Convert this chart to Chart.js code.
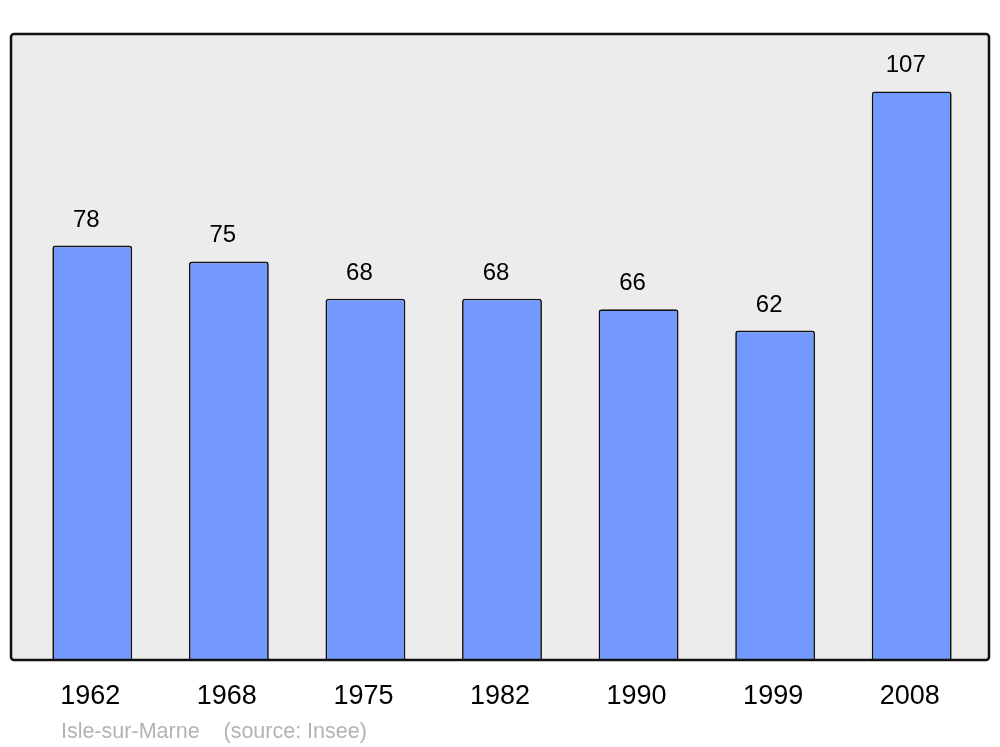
<html>
<head>
    <script type="text/javascript" src="https://cdn.jsdelivr.net/npm/chart.js@4/dist/chart.umd.min.js"></script>
    <style>
        body { margin: 0; background: #fff; }
        #wrap { width: 1000px; height: 747px; }
    </style>
</head>
<body>
    <div id="wrap"><canvas id="pop"></canvas></div>
    <script type="text/javascript">
        var years = ["1962", "1968", "1975", "1982", "1990", "1999", "2008"];
        var population = [78, 75, 68, 68, 66, 62, 107];
        var footer = "Isle-sur-Marne    (source: Insee)";

        var fontFamily = "'Liberation Sans', Arial, sans-serif";

        // grey box behind the bars, a bit wider than the category band
        var boxPlugin = {
            id: 'box',
            beforeDatasetsDraw: function(chart) {
                var a = chart.chartArea, ctx = chart.ctx;
                ctx.save();
                ctx.beginPath();
                ctx.roundRect(a.left - 13, a.top, (a.right + 9) - (a.left - 13), a.bottom - a.top, 3);
                ctx.fillStyle = '#ececec';
                ctx.fill();
                ctx.restore();
            },
            afterDatasetsDraw: function(chart) {
                var a = chart.chartArea, ctx = chart.ctx;
                ctx.save();
                ctx.beginPath();
                ctx.roundRect(a.left - 13, a.top, (a.right + 9) - (a.left - 13), a.bottom - a.top, 3);
                ctx.lineWidth = 2.5;
                ctx.strokeStyle = '#111';
                ctx.stroke();

                // value labels over the bars
                var meta = chart.getDatasetMeta(0);
                ctx.fillStyle = '#000';
                ctx.font = '24px ' + fontFamily;
                ctx.textAlign = 'center';
                ctx.textBaseline = 'alphabetic';
                meta.data.forEach(function(bar, i) {
                    ctx.fillText(String(population[i]), bar.x - 6, bar.y - 19);
                });

                // footer
                ctx.fillStyle = '#b3b3b3';
                ctx.font = '21.5px ' + fontFamily;
                ctx.textAlign = 'left';
                ctx.fillText(footer, 61, 738);
                ctx.restore();
            }
        };

        var ctx = document.getElementById('pop').getContext('2d');
        var chart = new Chart(ctx, {
            type: 'bar',
            data: {
                labels: years,
                datasets: [{
                    data: population,
                    backgroundColor: '#7399ff',
                    borderColor: '#111',
                    borderWidth: 1.7,
                    borderRadius: { topLeft: 3, topRight: 3 },
                    borderSkipped: 'bottom',
                    barPercentage: 0.585,
                    categoryPercentage: 1
                }]
            },
            options: {
                responsive: true,
                maintainAspectRatio: false,
                animation: false,
                layout: { padding: { left: 24, right: 20, top: 34, bottom: 0 } },
                plugins: {
                    legend: { display: false },
                    tooltip: { enabled: false }
                },
                scales: {
                    x: {
                        grid: { display: false, drawTicks: false },
                        border: { display: false },
                        ticks: {
                            color: '#000',
                            font: { size: 27, family: fontFamily },
                            padding: 20,
                            labelOffset: -2
                        },
                        afterFit: function(scale) { scale.height = 87; }
                    },
                    y: {
                        display: false,
                        min: 0,
                        max: 117.8
                    }
                }
            },
            plugins: [boxPlugin]
        });
    </script>
</body>
</html>
